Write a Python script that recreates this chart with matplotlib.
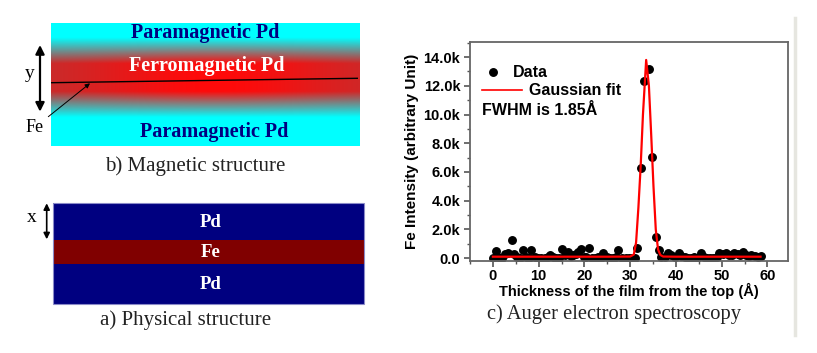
import numpy as np
import matplotlib
matplotlib.use("Agg")
import matplotlib.pyplot as plt
from matplotlib.patches import Rectangle
from matplotlib.ticker import FuncFormatter, MultipleLocator

# ---------------- data ----------------
data_x = [0.0, 0.6, 1.2, 1.9, 2.6, 3.3, 4.1, 4.6, 5.3, 6.0, 6.6, 7.3, 8.0, 8.4, 9.2,
          9.9, 10.6, 11.3, 12.0, 12.4, 13.2, 13.9, 14.5, 15.0, 15.7, 16.4, 17.0, 17.5,
          18.1, 18.6, 19.3, 19.9, 20.4, 20.9, 21.6, 22.3, 23.0, 23.6, 24.1, 24.9, 25.6,
          26.3, 27.0, 27.4, 28.3, 29.0, 29.7, 30.5, 31.0, 31.6, 32.3, 33.0, 34.1, 34.8,
          35.6, 36.2, 36.8, 37.6, 38.3, 39.0, 39.7, 40.7, 41.2, 41.9, 42.6, 43.3, 44.0,
          44.7, 45.5, 46.1, 46.8, 47.5, 48.2, 48.9, 49.5, 50.2, 50.9, 51.5, 52.2, 52.8,
          53.5, 54.1, 54.6, 55.3, 56.0, 56.4, 57.2, 57.9, 58.5]
data_y = [20, 520, 60, 40, 300, 380, 1250, 300, 60, 30, 560, 100, 30, 560, 50,
          20, 40, 30, 80, 250, 60, 30, 40, 670, 200, 400, 150, 200,
          300, 400, 620, 80, 100, 720, 40, 30, 60, 40, 330, 50, 20,
          40, 80, 560, 30, 20, 40, 30, 20, 680, 6300, 12300, 13200, 7050,
          1500, 560, 100, 60, 330, 200, 60, 380, 120, 50, 40, 30, 60,
          40, 380, 50, 30, 40, 30, 60, 380, 300, 330, 250, 200, 330,
          280, 200, 400, 250, 150, 250, 180, 100, 120]

fit_x = [0, 5, 10, 15, 20, 25, 30, 30.8, 31.3, 31.8, 32.3, 32.8, 33.5, 34.1, 34.6,
         35.1, 35.6, 36.1, 36.6, 37.2, 40, 45, 50, 55, 58.5]
fit_y = [100, 100, 100, 100, 100, 100, 110, 250, 1100, 3500, 6400, 10000, 13800, 12000,
         8600, 5000, 2000, 600, 220, 110, 100, 100, 100, 100, 100]

y_ticks = [0, 2000, 4000, 6000, 8000, 10000, 12000, 14000]
x_ticks = [0, 10, 20, 30, 40, 50, 60]

SERIF = "Liberation Serif"
SANS = "Liberation Sans"

W, H = 817, 353
fig = plt.figure(figsize=(W / 100, H / 100), dpi=100)
fig.patch.set_facecolor("white")

# ---------------- schematic overlay (pixel coordinates) ----------------
ov = fig.add_axes([0, 0, 1, 1])
ov.axis("off")

# b) magnetic structure gradient
bl, br, bt, bb = 50.7, 359.3, 22.7, 145.7
ny, nx = 240, 300
yy = np.linspace(bt, bb, ny)[:, None]
xx = np.linspace(bl, br, nx)[None, :]
d = np.abs(yy - 77.0)
w = np.clip((40.0 - d) / (40.0 - 14.0), 0, 1)
hx = np.exp(-((xx - 215.0) / 130.0) ** 2)
red = np.stack([190 + 65 * hx, 50 - 40 * hx, 50 - 40 * hx], axis=-1) / 255.0
cyan = np.array([0.0, 1.0, 1.0])
img = cyan[None, None, :] * (1 - w[..., None]) + red * w[..., None]
img = np.clip(img, 0, 1)
ov.imshow(img, extent=[bl, br, bb, bt], aspect="auto", interpolation="bilinear", zorder=1)
ov.set_xlim(0, W)
ov.set_ylim(H, 0)

ov.plot([51.7, 357.3], [82.7, 78.3], color="black", lw=1.0, zorder=3)
ov.annotate("", xy=(90, 83.3), xytext=(48.3, 116.7),
            arrowprops=dict(arrowstyle="-|>", color="black", lw=0.7,
                            mutation_scale=7, shrinkA=0, shrinkB=0), zorder=4)
ov.text(35, 128, "Fe", family=SERIF, fontsize=13, ha="center", va="center", color="black")
ov.annotate("", xy=(40, 45), xytext=(40, 111.7),
            arrowprops=dict(arrowstyle="<|-|>", color="black", lw=1.6,
                            mutation_scale=13, shrinkA=0, shrinkB=0), zorder=4)
ov.text(30, 74, "y", family=SERIF, fontsize=14, ha="center", va="center", color="black")

ov.text(205, 33, "Paramagnetic Pd", family=SERIF, weight="bold", fontsize=14.5,
        ha="center", va="center", color="#000080", zorder=5)
ov.text(207, 66.5, "Ferromagnetic Pd", family=SERIF, weight="bold", fontsize=14.5,
        ha="center", va="center", color="white", zorder=5)
ov.text(214, 131.5, "Paramagnetic Pd", family=SERIF, weight="bold", fontsize=14.5,
        ha="center", va="center", color="#000080", zorder=5)
ov.text(195, 166.5, "b) Magnetic structure", family=SERIF, fontsize=15,
        ha="center", va="center", color="#222222")

# a) physical structure
al, ar = 53.3, 364.3
layers = [(203.3, 240.0, "#000080", "Pd"), (240.0, 264.3, "#800000", "Fe"),
          (264.3, 304.0, "#000080", "Pd")]
for top, bot, col, lab in layers:
    ov.add_patch(Rectangle((al, top), ar - al, bot - top, facecolor=col,
                           edgecolor="none", zorder=2))
    ov.text(211, (top + bot) / 2 + 0.5, lab, family=SERIF, weight="bold", fontsize=13.5,
            ha="center", va="center", color="white", zorder=5)
ov.add_patch(Rectangle((al, 203.3), ar - al, 304.0 - 203.3, facecolor="none",
                       edgecolor="#8a8ac8", lw=0.8, zorder=3))
ov.annotate("", xy=(46.7, 203.3), xytext=(46.7, 239.3),
            arrowprops=dict(arrowstyle="<|-|>", color="black", lw=1.2,
                            mutation_scale=9, shrinkA=0, shrinkB=0), zorder=4)
ov.text(31.7, 218, "x", family=SERIF, fontsize=14, ha="center", va="center", color="black")
ov.text(186, 320, "a) Physical structure", family=SERIF, fontsize=15,
        ha="center", va="center", color="#222222")

# c) caption and right border line
ov.text(614, 314, "c) Auger electron spectroscopy", family=SERIF, fontsize=14.8,
        ha="center", va="center", color="#222222")
ov.plot([795, 795], [18, 335], color="#e6e6e0", lw=2.5)

# ---------------- chart ----------------
ax = fig.add_axes([470 / W, 1 - 261 / H, (788 - 470) / W, (261 - 42) / H])
ax.plot(data_x, data_y, "o", color="black", ms=5.4, zorder=2)
ax.plot(fit_x, fit_y, color="#ff0000", lw=1.6, zorder=3)

ax.set_xlim(-5, 64.5)
ax.set_ylim(-200, 15050)
ax.set_xticks(x_ticks)
ax.set_yticks(y_ticks)
ax.xaxis.set_minor_locator(MultipleLocator(5))
ax.yaxis.set_minor_locator(MultipleLocator(1000))
ax.yaxis.set_major_formatter(FuncFormatter(lambda v, p: "0.0" if v == 0 else f"{v/1000:.1f}k"))
ax.tick_params(which="both", direction="out", color="#555555", top=False, right=False)
ax.tick_params(which="major", length=4, width=1.2, pad=3)
ax.tick_params(axis="x", which="major", pad=2)
ax.tick_params(which="minor", length=2.5, width=1.0)
for lab in ax.get_xticklabels() + ax.get_yticklabels():
    lab.set_fontfamily(SANS)
    lab.set_fontweight("bold")
    lab.set_fontsize(10.5)
for s in ax.spines.values():
    s.set_color("#666666")
    s.set_linewidth(1.3)

ax.set_xlabel("Thickness of the film from the top (Å)", family=SANS, weight="bold",
              fontsize=10.5, labelpad=0)
ax.set_ylabel("Fe Intensity (arbitrary Unit)", family=SANS, weight="bold",
              fontsize=11, labelpad=3)

# legend-like annotations
ax.plot([0.0], [12950], "o", color="black", ms=5.4)
ax.text(4.3, 12950, "Data", family=SANS, weight="bold", fontsize=11.5, va="center")
ax.plot([-2.4, 6.4], [11700, 11700], color="#ff0000", lw=1.2)
ax.text(8.0, 11700, "Gaussian fit", family=SANS, weight="bold", fontsize=11.5, va="center")
ax.text(-2.4, 10300, "FWHM is 1.85Å", family=SANS, weight="bold", fontsize=11.5, va="center")

fig.savefig("out.png", dpi=100, facecolor="white")
